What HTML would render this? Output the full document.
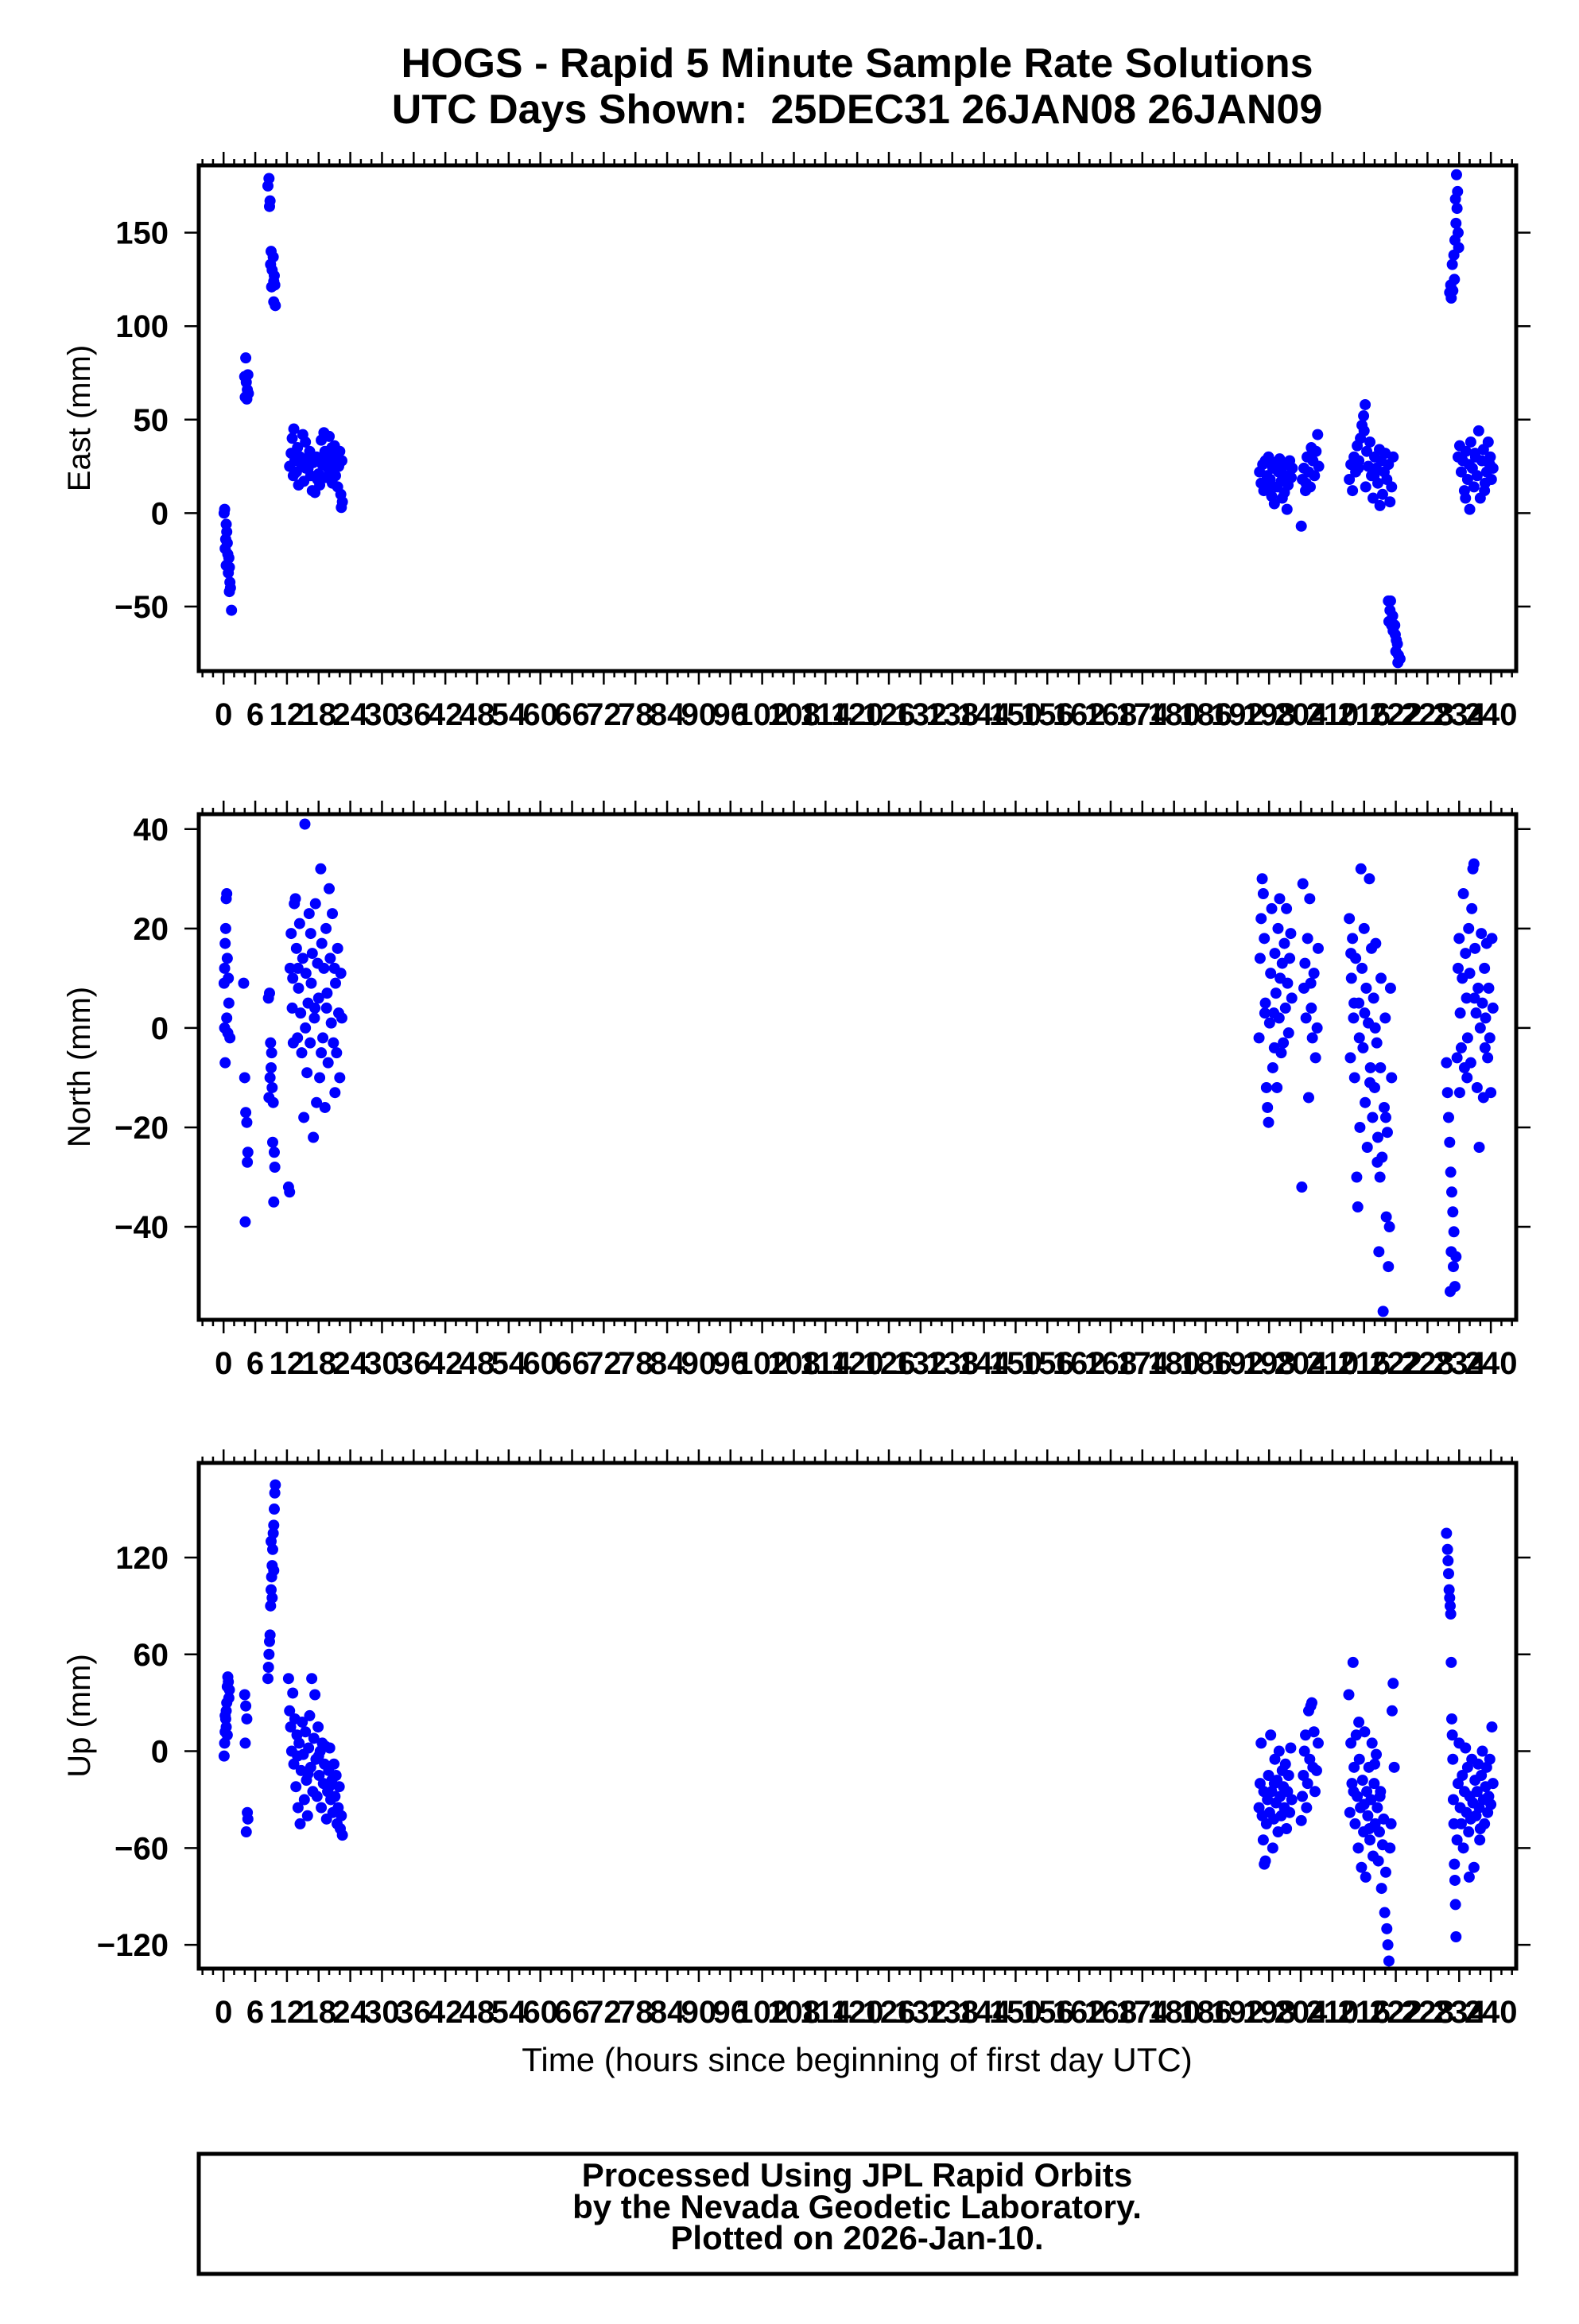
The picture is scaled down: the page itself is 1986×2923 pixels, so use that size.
<!DOCTYPE html>
<html><head><meta charset="utf-8"><style>
html,body{margin:0;padding:0;background:#fff}
svg{display:block}
text{font-family:"Liberation Sans",Arial,sans-serif}
</style></head><body>
<svg id="chart" width="1986" height="2923" viewBox="0 0 1986 2923" xmlns="http://www.w3.org/2000/svg">
<rect x="0" y="0" width="1986" height="2923" fill="#fff"/>
<text x="1078" y="97" font-size="52" font-weight="bold" text-anchor="middle">HOGS - Rapid 5 Minute Sample Rate Solutions</text>
<text x="1078" y="155" font-size="52" font-weight="bold" text-anchor="middle" xml:space="preserve">UTC Days Shown:  25DEC31 26JAN08 26JAN09</text>
<text x="1078" y="2605" font-size="42" text-anchor="middle">Time (hours since beginning of first day UTC)</text>
<rect x="250" y="2709" width="1657" height="151" fill="none" stroke="#000" stroke-width="5"/>
<text x="1078" y="2750" font-size="42" font-weight="bold" text-anchor="middle">Processed Using JPL Rapid Orbits</text>
<text x="1078" y="2790" font-size="42" font-weight="bold" text-anchor="middle">by the Nevada Geodetic Laboratory.</text>
<text x="1078" y="2829" font-size="42" font-weight="bold" text-anchor="middle">Plotted on 2026-Jan-10.</text>
</svg>
<script>
const xTickLabels = [0,6,12,18,24,30,36,42,48,54,60,66,72,78,84,90,96,102,108,114,120,126,132,138,144,150,156,162,168,174,180,186,192,198,204,210,216,222,228,234,240];
const eastTicks = [150,100,50,0,-50];
const northTicks = [40,20,0,-20,-40];
const upTicks = [120,60,0,-60,-120];

const eastPoints = [[0.2,2],[0.1,0],[0.5,-6],[0.6,-10],[0.4,-14],[0.7,-16],[0.3,-19],[0.8,-22],[1.0,-24],[0.5,-28],[1.1,-29],[0.9,-32],[1.2,-37],[1.3,-40],[1.1,-42],[1.5,-52],
[4.2,83],[4.0,73],[4.6,74],[4.3,70],[4.5,66],[4.1,62],[4.7,64],[4.4,61],
[8.6,179],[8.4,175],[8.8,167],[8.7,164],[9.0,140],[9.4,137],[8.9,133],[9.2,130],[9.6,127],[9.5,124],[9.1,121],[9.7,122],[9.5,113],[9.8,111],
[12.5,25],[12.8,32],[13.0,40],[13.3,45],[13.5,28],[13.8,22],[14.0,35],[14.2,15],[14.5,30],[14.8,26],[15.0,42],[15.2,17],[15.5,38],[15.8,29],[16.0,24],[16.3,33],[16.5,20],[16.8,12],[17.0,27],[17.3,11],[17.6,30],[18.0,21],[18.2,15],[18.5,39],[18.7,26],[19.0,43],[19.2,33],[19.4,19],[19.6,28],[19.8,24],[20.0,41],[20.2,22],[20.4,30],[20.6,16],[20.8,27],[21.0,36],[21.2,20],[21.4,32],[21.6,14],[21.8,25],[22.0,33],[22.2,10],[22.4,28],[22.5,6],[22.3,3],[13.2,20],[15.6,24],[17.8,18],[18.9,29],[20.5,35],
[196.2,22],[196.5,16],[196.8,26],[197.0,12],[197.3,28],[197.6,20],[197.9,30],[198.2,18],[198.5,9],[198.7,24],[199.0,5],[199.2,27],[199.5,14],[199.8,22],[200.0,29],[200.3,17],[200.6,25],[200.9,11],[201.2,20],[201.4,2],[201.6,15],[201.9,28],[202.2,19],[202.4,24],[198.0,14],[200.5,8],
[204.1,-7],[204.3,18],[204.6,24],[204.9,12],[205.2,30],[205.5,22],[205.8,14],[206.0,35],[206.3,28],[206.6,20],[206.9,33],[207.2,42],[207.4,25],[205.0,16],
[213.2,18],[213.5,26],[213.8,12],[214.1,30],[214.4,22],[214.7,36],[215.0,28],[215.3,40],[215.6,47],[215.9,52],[216.2,58],[216.0,44],[216.5,33],[216.8,25],[217.1,38],[217.4,20],[217.7,8],[218.0,30],[218.3,24],[218.6,16],[218.9,34],[219.2,28],[219.5,10],[219.8,22],[220.0,32],[220.3,18],[220.6,26],[220.9,6],[221.2,14],[221.5,30],[219.0,4],[217.9,20],[216.3,14],[214.9,24],
[220.6,-47],[221.0,-47],[220.9,-52],[221.4,-55],[220.7,-58],[221.2,-60],[221.8,-60],[221.5,-63],[221.9,-65],[222.1,-68],[222.3,-70],[222.0,-74],[222.5,-76],[222.8,-78],[222.4,-80],
[233.5,181],[233.7,172],[233.3,168],[233.6,163],[233.4,155],[233.8,150],[233.2,146],[233.9,142],[233.0,138],[232.7,133],[233.1,125],[232.4,122],[232.2,118],[232.5,115],[232.8,119],
[233.8,30],[234.1,36],[234.4,22],[234.7,28],[235.0,12],[235.3,33],[235.6,18],[235.9,26],[236.2,38],[236.5,24],[236.8,14],[237.1,30],[237.4,20],[237.7,44],[238.0,8],[238.3,28],[238.6,34],[238.9,16],[239.2,22],[239.5,38],[239.8,26],[240.1,18],[240.4,24],[236.0,2],[237.0,32],[238.8,12],[239.9,30],[235.2,8]];

const northPoints = [[0.1,9],[0.3,17],[0.5,26],[0.6,27],[0.4,20],[0.2,12],[0.7,14],[0.8,-1],[0.3,-7],[0.6,2],[1.0,5],[1.2,-2],[0.9,10],[0.2,0],
[3.8,9],[4.0,-10],[4.2,-17],[4.4,-19],[4.6,-25],[4.5,-27],[4.1,-39],
[8.5,6],[8.7,7],[8.9,-3],[9.0,-8],[9.2,-12],[9.4,-15],[8.8,-10],[9.3,-23],[9.6,-25],[9.7,-28],[9.5,-35],[9.1,-5],[8.6,-14],
[12.3,-32],[12.5,-33],[12.6,12],[12.8,19],[13.0,4],[13.2,-3],[13.4,25],[13.6,26],[13.8,16],[14.0,-2],[14.2,8],[14.4,21],[14.6,3],[14.8,-5],[15.0,14],[15.2,-18],[15.4,41],[15.6,11],[15.8,-9],[16.0,5],[16.2,23],[16.4,-3],[16.6,9],[16.8,15],[17.0,-22],[17.2,2],[17.4,25],[17.6,-15],[17.8,13],[18.0,6],[18.2,-10],[18.4,32],[18.6,17],[18.8,-2],[19.0,12],[19.2,-16],[19.4,20],[19.6,7],[19.8,-7],[20.0,28],[20.2,14],[20.4,1],[20.6,23],[20.8,-3],[21.0,12],[21.2,9],[21.4,-5],[21.6,16],[21.8,3],[22.0,-10],[22.2,11],[22.4,2],[14.1,12],[15.5,0],[16.5,19],[18.5,-5],[19.5,4],[21.1,-13],[13.1,10],[17.3,4],
[196.1,-2],[196.3,14],[196.5,22],[196.7,30],[196.9,27],[197.1,18],[197.3,5],[197.5,-12],[197.7,-16],[197.9,-19],[198.1,1],[198.3,11],[198.5,24],[198.7,-8],[198.9,3],[199.1,15],[199.3,7],[199.5,-12],[199.7,20],[199.9,2],[200.1,10],[200.3,-5],[200.5,13],[200.7,-3],[200.9,17],[201.1,4],[201.3,24],[201.5,9],[201.7,-1],[201.9,14],[202.1,19],[202.3,6],[197.2,3],[199.0,-4],[200.0,26],
[204.2,-32],[204.4,29],[204.6,8],[204.8,13],[205.0,2],[205.3,18],[205.5,-14],[205.7,26],[206.0,4],[206.2,-2],[206.5,11],[206.8,-6],[207.1,0],[207.3,16],[205.9,9],
[213.2,22],[213.4,-6],[213.6,10],[213.8,18],[214.0,2],[214.2,-10],[214.4,14],[214.6,-30],[214.8,-36],[215.0,5],[215.2,-20],[215.4,32],[215.6,12],[215.8,-4],[216.0,20],[216.2,-15],[216.4,8],[216.6,-24],[216.8,1],[217.0,30],[217.2,-8],[217.4,16],[217.6,-18],[217.8,6],[218.0,-12],[218.2,17],[218.4,-3],[218.6,-22],[218.8,-45],[219.0,-30],[219.2,10],[219.4,-26],[219.6,-57],[219.8,-16],[220.0,2],[220.2,-38],[220.4,-21],[220.6,-48],[220.8,-40],[221.0,8],[221.2,-10],[214.1,5],[215.1,-2],[216.1,3],[217.1,-11],[218.1,0],[219.1,-8],[220.1,-18],[213.5,15],[218.5,-27],
[231.6,-7],[231.8,-13],[232.0,-18],[232.2,-23],[232.4,-29],[232.6,-33],[232.8,-37],[233.0,-41],[232.5,-45],[232.9,-48],[233.2,-52],[232.3,-53],[233.4,-46],[233.6,-6],[233.8,12],[234.0,18],[234.2,3],[234.4,-4],[234.6,10],[234.8,27],[235.0,-8],[235.2,15],[235.4,6],[235.6,-2],[235.8,20],[236.0,11],[236.2,-7],[236.4,24],[236.6,32],[236.8,33],[237.0,16],[237.2,3],[237.4,-12],[237.6,8],[237.8,-24],[238.0,0],[238.2,19],[238.4,5],[238.6,-14],[238.8,12],[239.0,2],[239.2,17],[239.4,-6],[239.6,8],[239.8,-2],[240.0,-13],[240.2,18],[240.4,4],[234.1,-13],[236.9,6],[238.9,-4],[235.5,-10]];

const upPoints = [[0.1,-3],[0.2,5],[0.3,12],[0.4,20],[0.5,25],[0.6,30],[0.7,40],[0.8,46],[0.9,43],[0.5,15],[0.3,22],[1.0,33],[0.7,10],[1.1,38],
[4.0,35],[4.2,28],[4.4,20],[4.1,5],[4.5,-38],[4.6,-42],[4.3,-50],
[8.4,45],[8.5,52],[8.6,60],[8.7,68],[8.8,72],[8.9,90],[9.0,100],[9.1,108],[9.2,115],[9.3,125],[9.4,135],[9.5,140],[9.6,150],[9.7,160],[9.8,165],[9.5,112],[9.2,95],[9.0,130],
[12.3,45],[12.5,25],[12.7,15],[12.9,0],[13.1,36],[13.3,-8],[13.5,20],[13.7,-22],[13.9,10],[14.1,-35],[14.3,5],[14.5,-45],[14.7,-12],[14.9,18],[15.1,-2],[15.3,-30],[15.5,12],[15.7,-18],[15.9,-40],[16.1,2],[16.3,22],[16.5,-10],[16.7,45],[16.9,-25],[17.1,8],[17.3,35],[17.5,-5],[17.7,-28],[17.9,15],[18.1,-15],[18.3,0],[18.5,-35],[18.7,5],[18.9,-20],[19.1,-8],[19.3,3],[19.5,-42],[19.7,-25],[19.9,-12],[20.1,2],[20.3,-30],[20.5,-18],[20.7,-38],[20.9,-8],[21.1,-28],[21.3,-15],[21.5,-45],[21.7,-35],[21.9,-22],[22.1,-48],[22.3,-40],[22.5,-52],[14.0,-3],[16.0,-14],[18.0,-3],[20.0,-22],
[196.1,-35],[196.3,-20],[196.5,5],[196.7,-40],[196.9,-55],[197.1,-70],[197.3,-68],[197.5,-45],[197.7,-30],[197.9,-15],[198.1,-38],[198.3,10],[198.5,-25],[198.7,-60],[198.9,-42],[199.1,-5],[199.3,-32],[199.5,-18],[199.7,-50],[199.9,0],[200.1,-28],[200.3,-40],[200.5,-12],[200.7,-22],[200.9,-35],[201.1,-8],[201.3,-48],[201.5,-25],[201.7,-15],[201.9,-38],[202.1,2],[202.3,-30],[197.0,-25],[199.0,-20],
[204.1,-43],[204.3,-28],[204.5,-15],[204.7,0],[204.9,10],[205.1,-35],[205.3,-20],[205.5,25],[205.7,-5],[205.9,28],[206.1,30],[206.3,-10],[206.5,12],[206.7,-25],[207.0,-12],[207.3,5],
[213.1,35],[213.3,-38],[213.5,5],[213.7,-20],[213.9,55],[214.1,-10],[214.3,-45],[214.5,10],[214.7,-28],[214.9,-60],[215.1,-5],[215.3,-35],[215.5,-72],[215.7,-18],[215.9,-50],[216.1,12],[216.3,-78],[216.5,-25],[216.7,-40],[216.9,-10],[217.1,-55],[217.3,-30],[217.5,5],[217.7,-65],[217.9,-20],[218.1,-45],[218.3,-2],[218.5,-35],[218.7,-68],[218.9,-50],[219.1,-25],[219.3,-85],[219.5,-58],[219.7,-42],[219.9,-100],[220.1,-75],[220.3,-110],[220.5,-120],[220.7,-130],[220.9,-60],[221.1,-45],[221.3,25],[221.5,42],[221.7,-10],[214.0,-25],[216.0,-33],[218.0,-8],[219.0,-28],[215.0,18],[217.0,-48],
[231.6,135],[231.8,125],[231.9,118],[232.0,110],[232.1,100],[232.2,95],[232.3,90],[232.4,85],[232.5,55],[232.6,20],[232.7,10],[232.8,-5],[232.9,-30],[233.0,-45],[233.1,-70],[233.2,-80],[233.3,-95],[233.4,-115],[233.6,-55],[233.8,-20],[234.0,5],[234.2,-35],[234.4,-45],[234.6,-15],[234.8,-60],[235.0,-25],[235.2,2],[235.4,-38],[235.6,-10],[235.8,-50],[236.0,-28],[236.2,-42],[236.4,-5],[236.6,-32],[236.8,-72],[237.0,-18],[237.2,-40],[237.4,-25],[237.6,-8],[237.8,-35],[238.0,-48],[238.2,-15],[238.4,0],[238.6,-30],[238.8,-45],[239.0,-22],[239.2,-10],[239.4,-38],[239.6,-28],[239.8,-5],[240.0,-33],[240.2,15],[240.4,-20],[235.9,-78],[237.9,-55]];

const NS = 'http://www.w3.org/2000/svg';
const svg = document.getElementById('chart');
const X0 = 250, X1 = 1907, HMIN = -4.7, HMAX = 244.8;
function xScale(h){ return X0 + (h - HMIN) / (HMAX - HMIN) * (X1 - X0); }
function mk(tag, attrs){ const e = document.createElementNS(NS, tag); for (const k in attrs) e.setAttribute(k, attrs[k]); return e; }

const panels = [
  {key:'east', title:'East (mm)', top:208, bottom:844, ymax:186, ymin:-84.5, ticks:eastTicks, pts:eastPoints},
  {key:'north', title:'North (mm)', top:1024, bottom:1660, ymax:43, ymin:-58.7, ticks:northTicks, pts:northPoints},
  {key:'up', title:'Up (mm)', top:1840, bottom:2476, ymax:178.6, ymin:-134.7, ticks:upTicks, pts:upPoints}
];

panels.forEach(p => {
  const g = mk('g', {});
  
  
  svg.appendChild(g);
  const yScale = v => p.top + (p.ymax - v) / (p.ymax - p.ymin) * (p.bottom - p.top);

  for (let h = -4; h <= 244; h += 2) {
    const x = xScale(h);
    const major = (h % 6 === 0);
    const len = major ? 17 : 8;
    const t1 = mk('line', {x1:x, x2:x, y1:p.top, y2:p.top - len, stroke:'#000', 'stroke-width':2.5});
    
    
    g.appendChild(t1);
    const t2 = mk('line', {x1:x, x2:x, y1:p.bottom, y2:p.bottom + len, stroke:'#000', 'stroke-width':2.5});
    
    
    g.appendChild(t2);
  }
  xTickLabels.forEach(v => {
    const t = mk('text', {x:xScale(v), y:p.bottom + 68, 'font-size':40, 'font-weight':'bold', 'text-anchor':'middle'});
    
    
    t.textContent = v;
    g.appendChild(t);
  });

  p.ticks.forEach(v => {
    const y = yScale(v);
    const l = mk('line', {x1:X0 - 18, x2:X0, y1:y, y2:y, stroke:'#000', 'stroke-width':2.5});
    
    
    g.appendChild(l);
    const r = mk('line', {x1:X1, x2:X1 + 18, y1:y, y2:y, stroke:'#000', 'stroke-width':2.5});
    
    
    g.appendChild(r);
    const t = mk('text', {x:212, y:y + 14, 'font-size':40, 'font-weight':'bold', 'text-anchor':'end'});
    
    
    t.textContent = v < 0 ? '\u2212' + Math.abs(v) : String(v);
    g.appendChild(t);
  });

  const cy = (p.top + p.bottom) / 2;
  const yt = mk('text', {x:0, y:0, 'font-size':40, 'text-anchor':'middle', transform:'translate(113,' + cy + ') rotate(-90)'});
  
  
  yt.textContent = p.title;
  g.appendChild(yt);

  const pg = mk('g', {fill:'#0000ff'});
  
  
  g.appendChild(pg);
  p.pts.forEach(d => {
    const c = mk('circle', {cx:xScale(d[0]), cy:yScale(d[1]), r:7});
    
    
    pg.appendChild(c);
  });

  const fr = mk('rect', {x:X0, y:p.top, width:X1 - X0, height:p.bottom - p.top, fill:'none', stroke:'#000', 'stroke-width':5});
  
  
  g.appendChild(fr);
});
</script>
</body></html>
